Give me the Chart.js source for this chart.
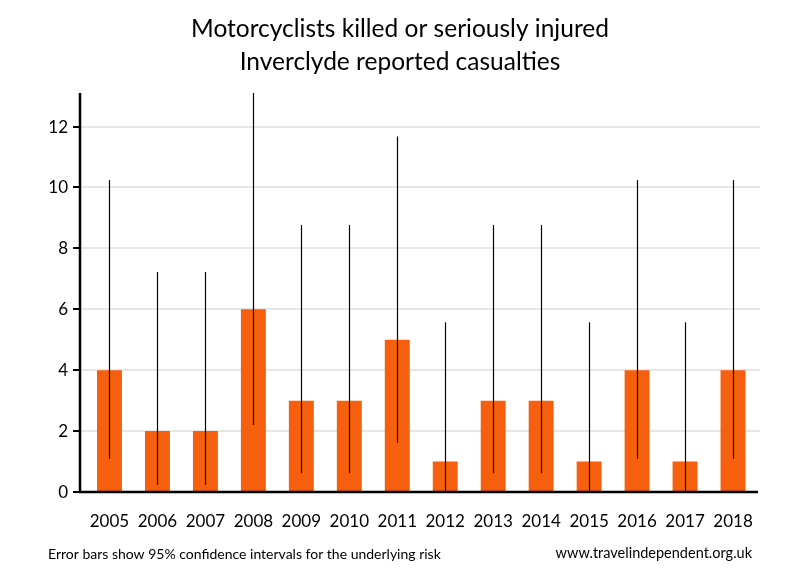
<!DOCTYPE html>
<html>
<head>
<meta charset="utf-8">
<script src="https://cdn.jsdelivr.net/npm/chart.js@4"></script>
<style>
  body { margin: 0; background: #fff; }
  canvas { display: block; }
</style>
</head>
<body>
<canvas id="myChart" width="800" height="580"></canvas>
<script>
const years = ['2005','2006','2007','2008','2009','2010','2011','2012','2013','2014','2015','2016','2017','2018'];
const casualties = [4, 2, 2, 6, 3, 3, 5, 1, 3, 3, 1, 4, 1, 4];
// 95% confidence limits
const ciLow  = [1.09, 0.24, 0.24, 2.2, 0.62, 0.62, 1.62, 0.03, 0.62, 0.62, 0.03, 1.09, 0.03, 1.09];
const ciHigh = [10.24, 7.22, 7.22, 13.1, 8.77, 8.77, 11.67, 5.57, 8.77, 8.77, 5.57, 10.24, 5.57, 10.24];
const yTicks = [0, 2, 4, 6, 8, 10, 12];
const titleLines = ['Motorcyclists killed or seriously injured', 'Inverclyde reported casualties'];
const footLeft = 'Error bars show 95% confidence intervals for the underlying risk';
const footRight = 'www.travelindependent.org.uk';

const FONT = 'Lato, "Open Sans", sans-serif';

// gridlines behind the bars
const gridBehind = {
  id: 'gridBehind',
  beforeDatasetsDraw(chart) {
    const { ctx, chartArea: { left, right }, scales: { y } } = chart;
    const axisX = left - 5.5;
    ctx.save();
    ctx.strokeStyle = '#e6e6e6';
    ctx.lineWidth = 2;
    yTicks.forEach(v => {
      if (v === 0) return;
      const py = Math.round(y.getPixelForValue(v));
      ctx.beginPath();
      ctx.moveTo(axisX, py);
      ctx.lineTo(right + 3, py);
      ctx.stroke();
    });
    ctx.restore();
  }
};

// error bars, axes, labels, titles
const overlay = {
  id: 'overlay',
  afterDatasetsDraw(chart) {
    const { ctx, chartArea: { left, right, top, bottom }, scales: { x, y } } = chart;
    const axisX = left - 5.5;
    ctx.save();

    // error bars
    ctx.strokeStyle = '#000';
    ctx.lineWidth = 1.2;
    years.forEach((yr, i) => {
      const px = Math.round(x.getPixelForValue(i)) + 0.5;
      ctx.beginPath();
      ctx.moveTo(px, y.getPixelForValue(ciLow[i]));
      ctx.lineTo(px, y.getPixelForValue(ciHigh[i]));
      ctx.stroke();
    });

    // axis lines
    const y0 = y.getPixelForValue(0);
    ctx.lineWidth = 2.5;
    ctx.beginPath();
    ctx.moveTo(axisX, top);
    ctx.lineTo(axisX, y0 + 1);
    ctx.stroke();
    ctx.beginPath();
    ctx.moveTo(axisX - 1, y0);
    ctx.lineTo(right + 1, y0);
    ctx.stroke();

    // y ticks + labels
    ctx.fillStyle = '#000';
    ctx.font = '17px ' + FONT;
    ctx.textAlign = 'right';
    ctx.textBaseline = 'middle';
    yTicks.forEach(v => {
      const py = Math.round(y.getPixelForValue(v));
      ctx.lineWidth = 2;
      ctx.beginPath();
      ctx.moveTo(axisX - 7, py);
      ctx.lineTo(axisX, py);
      ctx.stroke();
      ctx.fillText(String(v), axisX - 12, py + 1);
    });

    // x labels
    ctx.textAlign = 'center';
    ctx.font = '17px ' + FONT;
    years.forEach((yr, i) => {
      ctx.fillText(yr, x.getPixelForValue(i), bottom + 30);
    });

    // title
    ctx.font = '24.5px ' + FONT;
    ctx.fillText(titleLines[0], 400, 29);
    ctx.fillText(titleLines[1], 400, 62);

    // footer
    ctx.font = '14px ' + FONT;
    ctx.textAlign = 'left';
    ctx.fillText(footLeft, 48, 554);
    ctx.font = '14.5px ' + FONT;
    ctx.textAlign = 'right';
    ctx.fillText(footRight, 752, 553);

    ctx.restore();
  }
};

const config = {
  type: 'bar',
  data: {
    labels: years,
    datasets: [{
      label: 'Casualties',
      data: casualties,
      backgroundColor: '#f55f0d',
      borderWidth: 0,
      categoryPercentage: 1,
      barPercentage: 0.52
    }]
  },
  options: {
    responsive: false,
    animation: false,
    layout: { padding: { left: 85.5, right: 43, top: 93, bottom: 88 } },
    plugins: {
      legend: { display: false },
      tooltip: { enabled: false }
    },
    scales: {
      x: { display: false },
      y: { display: false, min: 0, max: 13.1 }
    }
  },
  plugins: [gridBehind, overlay]
};

const chart = new Chart(document.getElementById('myChart'), config);
</script>
</body>
</html>
